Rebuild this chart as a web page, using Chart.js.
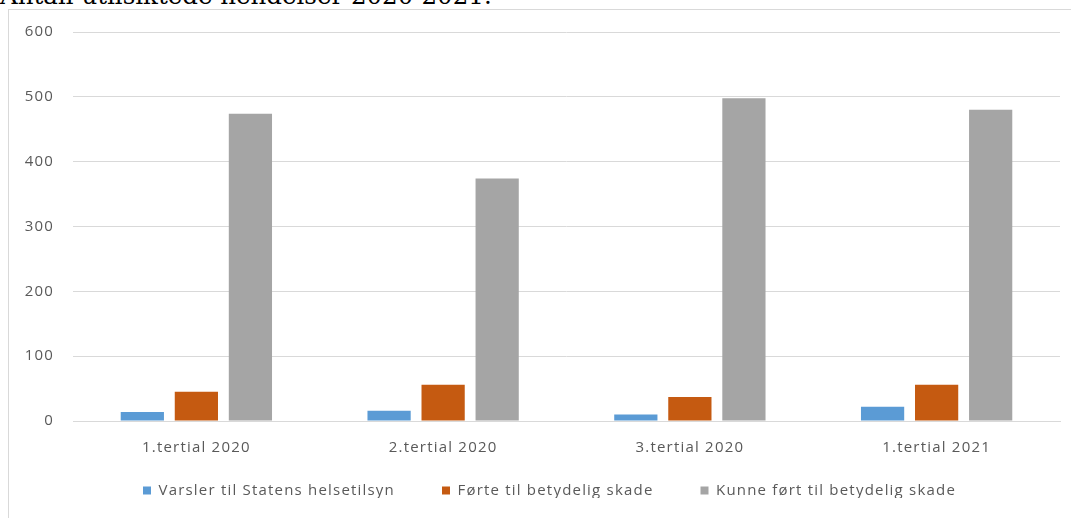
<!DOCTYPE html>
<html>
<head>
<meta charset="utf-8">
<script src="https://cdn.jsdelivr.net/npm/chart.js@4.4.1/dist/chart.umd.min.js"></script>
<style>
  html, body { margin:0; padding:0; background:#fff; width:1071px; height:518px; overflow:hidden; }
  #title { position:absolute; left:0; top:-16px; font-family:"DejaVu Serif", serif; font-size:24.5px; line-height:24.5px; color:#000; white-space:nowrap; }
  #frame { position:absolute; left:8px; top:9px; width:1080px; height:530px; border:1px solid #d9d9d9; box-sizing:border-box; }
  #wrap { position:absolute; left:9px; top:10px; width:1062px; height:508px; }
</style>
</head>
<body>
<div id="title">Antall utilsiktede hendelser 2020-2021.</div>
<div id="frame"></div>
<div id="wrap"><canvas id="c"></canvas></div>
<script>
const categories = ["1.tertial 2020", "2.tertial 2020", "3.tertial 2020", "1.tertial 2021"];
const seriesNames = ["Varsler til Statens helsetilsyn", "Førte til betydelig skade", "Kunne ført til betydelig skade"];
const varsler = [14, 16, 10, 22];
const forte = [45, 56, 37, 56];
const kunne = [474, 374, 498, 480];
const yTicks = [0, 100, 200, 300, 400, 500, 600];
const colors = ["#5b9bd5", "#c55a11", "#a5a5a5"];

const font = { family: "'Open Sans', sans-serif", size: 15 };
Chart.defaults.font.family = font.family;
Chart.defaults.color = "#595959";
const LS = "1.2px";
const LEGEND_H = 62;

const spacing = {
  id: "spacing",
  beforeUpdate(chart) { chart.ctx.letterSpacing = LS; },
  beforeLayout(chart) {
    chart.ctx.letterSpacing = LS;
    const lg = chart.legend;
    if (lg && !lg._patched) {
      const f = lg.fit;
      lg.fit = function () { f.call(this); this.height = LEGEND_H; };
      lg._patched = true;
    }
  },
  beforeDraw(chart) { chart.ctx.letterSpacing = LS; },
  afterLayout(chart) {
    const lg = chart.legend;
    const pad = lg.options.labels.padding;
    const h = lg.bottom - lg.top;
    lg.top = 482 - pad - 9;
    lg.bottom = lg.top + h;
    lg.left += 15; lg.right += 15;
  }
};

new Chart(document.getElementById("c"), {
  type: "bar",
  data: {
    labels: categories,
    datasets: [varsler, forte, kunne].map((d, i) => ({
      label: seriesNames[i],
      data: d,
      backgroundColor: colors[i],
      borderWidth: 0,
      categoryPercentage: 0.657,
      barPercentage: 0.8
    }))
  },
  plugins: [spacing],
  options: {
    responsive: true,
    maintainAspectRatio: false,
    animation: false,
    layout: { padding: { top: 22, right: 11, bottom: 0, left: 0 } },
    plugins: {
      legend: {
        position: "bottom",
        labels: { boxWidth: 8, boxHeight: 8, font: font, color: "#595959", padding: 47 }
      },
      tooltip: { enabled: false }
    },
    scales: {
      x: {
        grid: { display: false, drawTicks: false },
        border: { display: true, color: "#d9d9d9", width: 1 },
        ticks: { font: font, color: "#595959", padding: 18 },
        afterFit: (s) => { s.height = 35; }
      },
      y: {
        min: 0, max: 600,
        afterBuildTicks: (s) => { s.ticks = yTicks.map(v => ({ value: v })); },
        afterFit: (s) => { s.width = 64; s.paddingTop = 0; s.paddingBottom = 0; },
        grid: { color: "#d9d9d9", drawTicks: false, lineWidth: 1 },
        border: { display: false },
        ticks: { font: font, color: "#595959", padding: 19 }
      }
    }
  }
});
</script>
</body>
</html>
